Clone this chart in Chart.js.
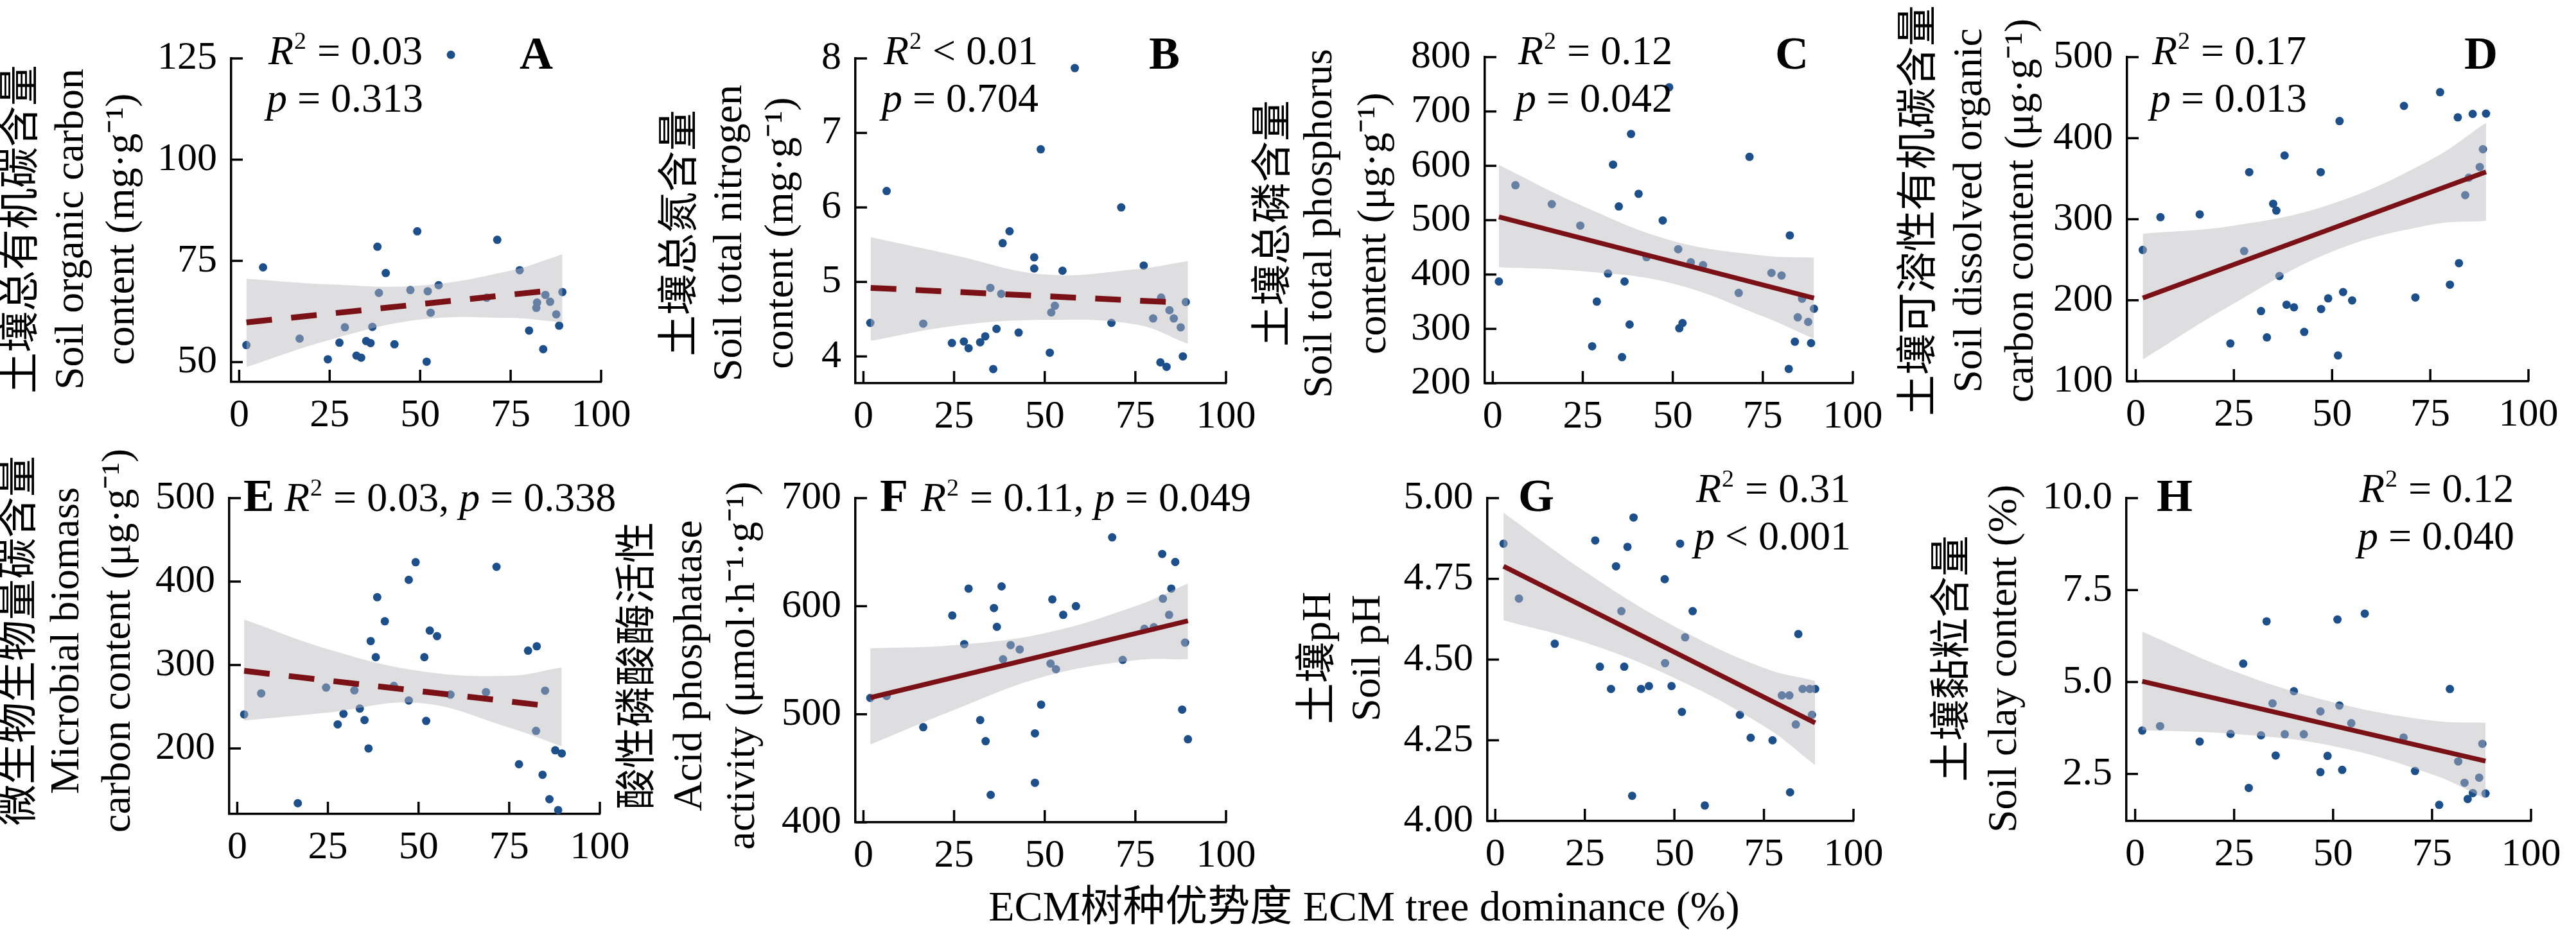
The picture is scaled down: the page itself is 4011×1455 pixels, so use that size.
<!DOCTYPE html>
<html><head><meta charset="utf-8">
<script src="https://cdn.jsdelivr.net/npm/chart.js@4.4.1/dist/chart.umd.min.js"></script>
<style>
html,body{margin:0;padding:0;background:#fff;width:4011px;height:1455px;overflow:hidden}
canvas{position:absolute;left:0;top:0}
</style></head><body>
<script>
// ---------- DATA ----------
const xTicks = [0,25,50,75,100];
// A Soil organic carbon
const xA=[58.5,6.6,49.2,38.2,71.3,40.5,77.5,38.6,47.3,52.1,55.1,68.4,84.6,89.3,82.3,82.1,85.9,52.9,87.6,88.4,29.2,36.8,80.1,2.0,16.7,27.7,35.1,36.3,42.9,24.5,32.4,33.7,51.8,84.0];
const yA=[125.9,73.4,82.3,78.5,80.2,72.0,72.7,67.1,67.8,67.5,69.0,65.9,66.6,67.3,64.7,63.4,64.9,62.2,61.8,59.0,58.6,58.7,57.8,54.2,55.8,54.8,55.2,54.7,54.4,50.7,51.6,51.1,50.1,53.2];
const fitXA=[2,84], fitYA=[59.8,67.5];
const bandXA=[2,25,50,75,89.3], bandUpA=[70.6,69.2,68.9,72.6,76.6], bandLoA=[48.8,55.5,60.5,60.9,59.8];
const yTicksA=[50,75,100,125];
// B Soil total nitrogen
const xB=[58.3,6.4,48.9,71.1,40.3,38.4,47.1,47.1,54.9,77.3,35.0,38.0,82.1,88.9,52.8,51.8,84.4,85.6,79.9,1.9,16.5,68.4,87.5,36.7,42.8,24.4,27.7,29.0,32.2,33.6,51.4,35.8,81.9,83.6,88.1];
const yB=[7.87,6.22,6.78,6.00,5.68,5.52,5.33,5.18,5.15,5.22,4.92,4.84,4.79,4.73,4.68,4.59,4.62,4.51,4.51,4.45,4.44,4.45,4.39,4.37,4.32,4.18,4.20,4.11,4.19,4.27,4.05,3.83,3.92,3.86,4.00];
const fitXB=[2,84], fitYB=[4.92,4.73];
const bandXB=[2,25,50,75,89.5], bandUpB=[5.60,5.36,5.10,5.17,5.28], bandLoB=[4.21,4.41,4.49,4.43,4.17];
const yTicksB=[4,5,6,7,8];
// C Soil total phosphorus
const xC=[49.0,38.4,33.4,71.3,6.3,40.5,16.4,35.0,47.2,24.3,82.5,51.5,42.7,55.0,58.4,77.4,80.2,32.0,1.7,36.6,68.3,85.9,28.9,89.2,84.7,87.6,38.0,52.7,51.8,27.6,83.9,88.4,35.9,82.2];
const yC=[744.6,658.7,602.3,616.5,564.3,548.5,529.5,525.3,499.5,490.0,472.0,446.7,432.0,422.5,417.2,403.0,398.2,401.9,387.2,387.2,366.1,355.5,350.2,337.1,321.3,312.8,308.1,310.7,301.2,268.0,276.4,273.8,248.0,226.4];
const fitXC=[1.7,89.2], fitYC=[506,356.6];
const bandXC=[1.7,25,50,75,89.2], bandUpC=[601.7,526,462,435,431], bandLoC=[413.5,406,383.5,323,281.7];
const yTicksC=[200,300,400,500,600,700,800];
// D Soil dissolved organic carbon
const xD=[58.5,77.5,68.3,82.0,85.8,89.2,51.9,88.4,37.9,28.9,47.1,87.6,84.8,83.9,35.0,35.8,6.3,16.3,1.8,27.6,36.6,82.3,80.0,52.8,49.0,55.1,71.2,38.4,40.3,47.2,31.9,33.4,42.9,24.1,51.5];
const yD=[524.8,456.8,439.8,425.7,429.9,430.3,421.1,386.4,378.6,358.1,358.1,364.4,351.3,329.7,319.1,310.6,302.5,306.0,262.1,260.7,229.9,245.8,219.3,210.1,202.3,199.8,203.4,194.5,191.3,189.2,186.7,154.2,160.9,146.7,131.9];
const fitXD=[1.8,89.2], fitYD=[202.7,358.4];
const bandXD=[1.8,25,50,75,89.2], bandUpD=[282,292,319,373,419], bandLoD=[127,196,260,293,298];
const yTicksD=[100,200,300,400,500];
// E Microbial biomass carbon
const xE=[49.2,71.5,47.3,38.6,40.7,53.1,55.1,36.8,82.6,80.2,38.2,51.6,24.5,43.2,84.9,6.6,32.3,68.6,58.8,47.3,33.8,1.9,29.3,27.7,35.1,52.1,82.4,36.2,87.7,89.5,77.7,84.2,16.7,86.1,88.5];
const yE=[423.2,417.7,402.1,381.3,352.4,341.3,334.6,328.7,322.4,317.2,309.4,309.4,273.0,274.9,269.3,266.0,269.7,267.5,264.5,257.5,247.8,240.8,241.5,228.9,234.1,233.0,221.1,200.0,197.8,194.1,181.1,168.5,134.4,139.2,126.2];
const fitXE=[1.9,83], fitYE=[293,252.3];
const bandXE=[1.9,25,50,75,89.5], bandUpE=[354.6,319,293,287,297], bandLoE=[233.4,243,254.5,225,202.6];
const yTicksE=[200,300,400,500];
// F Acid phosphatase activity
const xF=[68.6,82.4,86.0,29.0,38.1,84.9,52.1,82.6,36.0,58.6,24.5,55.1,84.3,36.8,77.5,80.1,27.8,40.6,88.7,43.1,38.5,71.5,51.6,53.1,1.9,6.4,49.0,87.9,32.2,16.5,47.3,33.7,89.5,47.3,35.1];
const yF=[663.7,648.3,640.9,616.3,618.3,616.3,606.3,606.9,598.3,600.0,591.4,592.0,592.0,580.9,579.1,580.6,564.9,564.0,566.3,560.0,550.9,550.3,546.9,541.7,515.1,516.9,508.9,504.3,494.6,488.0,482.3,475.1,476.9,436.6,425.4];
const fitXF=[1.9,89.5], fitYF=[515.4,586.5];
const bandXF=[1.9,25,50,75,89.5], bandUpF=[561,564,575,600,621], bandLoF=[472,504,535,550,551];
const yTicksF=[400,500,600,700];
// G Soil pH
const xG=[24.6,38.6,2.3,27.9,36.9,51.6,33.7,47.3,6.6,35.2,55.1,84.6,53.0,16.6,47.4,29.2,36.0,49.2,42.9,40.7,32.3,85.8,87.8,89.3,80.0,82.1,52.1,68.3,88.4,83.9,71.3,77.4,82.3,38.2,58.5];
const yG=[5.039,4.940,4.859,4.869,4.849,4.859,4.789,4.749,4.689,4.650,4.650,4.579,4.569,4.549,4.489,4.478,4.478,4.418,4.418,4.409,4.409,4.409,4.409,4.409,4.389,4.389,4.338,4.329,4.329,4.299,4.258,4.250,4.089,4.078,4.048];
const fitXG=[2.3,89.3], fitYG=[4.789,4.304];
const bandXG=[2.3,25,50,75,89.3], bandUpG=[4.955,4.773,4.603,4.474,4.434], bandLoG=[4.622,4.553,4.443,4.294,4.173];
const yTicksG=[4.00,4.25,4.50,4.75,5.00];
// H Soil clay content
const xH=[36.3,58.0,33.2,51.1,27.3,79.5,40.1,34.7,51.6,46.8,54.6,6.3,1.8,24.1,31.8,37.8,42.6,67.8,16.3,87.7,35.5,48.6,81.6,46.8,52.3,70.7,86.9,83.2,28.7,85.3,88.5,84.0,76.8];
const yH=[10.64,6.86,6.65,6.70,5.50,4.81,4.75,4.42,4.36,4.20,3.88,3.80,3.68,3.59,3.55,3.58,3.58,3.49,3.38,3.32,3.00,2.99,2.84,2.55,2.61,2.58,2.40,2.26,2.12,1.98,1.97,1.82,1.66];
const fitXH=[1.8,88.5], fitYH=[5.02,2.85];
const bandXH=[1.8,25,50,75,88.5], bandUpH=[6.37,5.29,4.45,3.95,3.89], bandLoH=[3.69,3.59,3.26,2.49,1.83];
const yTicksH=[2.5,5.0,7.5,10.0];

// ---------- PANELS ----------
const SERIF='"Liberation Serif","Noto Sans CJK SC"';
const panels=[
 {x:xA,y:yA,fx:fitXA,fy:fitYA,bx:bandXA,bu:bandUpA,bl:bandLoA,yt:yTicksA,dec:0,ymin:45.1,ymax:125,dash:true,
  area:{l:360,r:936,t:91,b:595},title:{lines:["土壤总有机碳含量","Soil organic carbon","content (mg·g⁻¹)"],xs:[35,112,191],cy:357},
  letter:{t:'A',x:835,y:107,align:'center'},ann:[{x:418,y:100,s:'R2',v:' = 0.03'},{x:415,y:174,s:'p',v:' = 0.313'}]},
 {x:xB,y:yB,fx:fitXB,fy:fitYB,bx:bandXB,bu:bandUpB,bl:bandLoB,yt:yTicksB,dec:0,ymin:3.64,ymax:8,dash:true,
  area:{l:1332,r:1909,t:91,b:597},title:{lines:["土壤总氮含量","Soil total nitrogen","content (mg·g⁻¹)"],xs:[1061,1137,1217],cy:363},
  letter:{t:'B',x:1813,y:107,align:'center'},ann:[{x:1376,y:100,s:'R2',v:' < 0.01'},{x:1373,y:174,s:'p',v:' = 0.704'}]},
 {x:xC,y:yC,fx:fitXC,fy:fitYC,bx:bandXC,bu:bandUpC,bl:bandLoC,yt:yTicksC,dec:0,ymin:200,ymax:800,dash:false,
  area:{l:2312,r:2885,t:89,b:597},title:{lines:["土壤总磷含量","Soil total phosphorus","content (μg·g⁻¹)"],xs:[1985,2056,2140],cy:348},
  letter:{t:'C',x:2790,y:107,align:'center'},ann:[{x:2364,y:100,s:'R2',v:' = 0.12'},{x:2360,y:174,s:'p',v:' = 0.042'}]},
 {x:xD,y:yD,fx:fitXD,fy:fitYD,bx:bandXD,bu:bandUpD,bl:bandLoD,yt:yTicksD,dec:0,ymin:100,ymax:500,dash:false,
  area:{l:3312,r:3937,t:89,b:594},title:{lines:["土壤可溶性有机碳含量","Soil dissolved organic","carbon content (μg·g⁻¹)"],xs:[2990,3068,3148],cy:328},
  letter:{t:'D',x:3863,y:107,align:'center'},ann:[{x:3351,y:100,s:'R2',v:' = 0.17'},{x:3348,y:174,s:'p',v:' = 0.013'}]},
 {x:xE,y:yE,fx:fitXE,fy:fitYE,bx:bandXE,bu:bandUpE,bl:bandLoE,yt:yTicksE,dec:0,ymin:121.5,ymax:500,dash:true,
  area:{l:357,r:934,t:776,b:1268},title:{lines:["微生物生物量碳含量","Microbial biomass","carbon content (μg·g⁻¹)"],xs:[32,105,185],cy:998},
  letter:{t:'E',x:379,y:796,align:'left'},ann:[{x:443,y:796,s:'R2',v:' = 0.03, ',s2:'p',v2:' = 0.338'}]},
 {x:xF,y:yF,fx:fitXF,fy:fitYF,bx:bandXF,bu:bandUpF,bl:bandLoF,yt:yTicksF,dec:0,ymin:400,ymax:700,dash:false,
  area:{l:1332,r:1909,t:776,b:1281},title:{lines:["酸性磷酸酶活性","Acid phosphatase","activity (μmol·h⁻¹·g⁻¹)"],xs:[995,1075,1157],cy:1037},
  letter:{t:'F',x:1370,y:796,align:'left'},ann:[{x:1434,y:796,s:'R2',v:' = 0.11, ',s2:'p',v2:' = 0.049'}]},
 {x:xG,y:yG,fx:fitXG,fy:fitYG,bx:bandXG,bu:bandUpG,bl:bandLoG,yt:yTicksG,dec:2,ymin:4,ymax:5,dash:false,
  area:{l:2316,r:2886,t:776,b:1279},title:{lines:["土壤pH","Soil pH"],xs:[2054,2131],cy:1025},
  letter:{t:'G',x:2364,y:796,align:'left'},ann:[{x:2641,y:782,s:'R2',v:' = 0.31'},{x:2638,y:856,s:'p',v:' < 0.001'}]},
 {x:xH,y:yH,fx:fitXH,fy:fitYH,bx:bandXH,bu:bandUpH,bl:bandLoH,yt:yTicksH,dec:1,ymin:1.22,ymax:10,dash:false,
  area:{l:3311,r:3941,t:776,b:1279},title:{lines:["土壤黏粒含量","Soil clay content (%)"],xs:[3042,3122],cy:1026},
  letter:{t:'H',x:3358,y:796,align:'left'},ann:[{x:3674,y:782,s:'R2',v:' = 0.12'},{x:3671,y:856,s:'p',v:' = 0.040'}]}
];

const W=4011,H=1455,FS=64;
function rich(ctx,x,y,sym,val){
  ctx.textAlign='left';ctx.textBaseline='alphabetic';
  if(sym==='R2'){
    ctx.font='italic '+FS+'px '+SERIF;ctx.fillText('R',x,y);x+=ctx.measureText('R').width;
    ctx.font=Math.round(FS*0.6)+'px '+SERIF;ctx.fillText('2',x+1,y-FS*0.38);x+=ctx.measureText('2').width+2;
  }else{
    ctx.font='italic '+FS+'px '+SERIF;ctx.fillText(sym,x,y);x+=ctx.measureText(sym).width;
  }
  ctx.font=FS+'px '+SERIF;ctx.fillText(val,x,y);x+=ctx.measureText(val).width;
  return x;
}
const deco={id:'deco',afterDraw(chart,args,o){
  const p=chart.config.options.plugins.deco.p;const ctx=chart.ctx;
  const xs=chart.scales.x, ys=chart.scales.y, a=chart.chartArea;
  ctx.save();ctx.strokeStyle='#000';ctx.lineWidth=3.5;ctx.fillStyle='#000';
  xTicks.forEach(v=>{const px=xs.getPixelForValue(v);ctx.beginPath();ctx.moveTo(px,a.bottom);ctx.lineTo(px,a.bottom-19);ctx.stroke();});
  p.yt.forEach(v=>{const py=ys.getPixelForValue(v);ctx.beginPath();ctx.moveTo(a.left,py);ctx.lineTo(a.left+18,py);ctx.stroke();});
  // y titles
  ctx.textAlign='center';ctx.textBaseline='middle';ctx.font=FS+'px '+SERIF;
  p.title.lines.forEach((t,i)=>{ctx.save();ctx.translate(p.title.xs[i],p.title.cy);ctx.rotate(-Math.PI/2);ctx.fillText(t,0,0);ctx.restore();});
  // letter
  ctx.font='bold 72px '+SERIF;ctx.textAlign=p.letter.align;ctx.textBaseline='alphabetic';
  ctx.fillText(p.letter.t,p.letter.x,p.letter.y);
  p.ann.forEach(n=>{let x=rich(ctx,n.x,n.y,n.s,n.v);if(n.s2)rich(ctx,x,n.y,n.s2,n.v2);});
  ctx.restore();
}};
const xAxisTitle={id:'xt',afterDraw(chart){const ctx=chart.ctx;ctx.save();ctx.fillStyle='#000';ctx.font='66px '+SERIF;ctx.textAlign='center';ctx.textBaseline='middle';ctx.fillText('ECM树种优势度 ECM tree dominance (%)',2124,1417);ctx.restore();}};

panels.forEach((p,i)=>{
  const c=document.createElement('canvas');c.width=W;c.height=H;c.style.width=W+'px';c.style.height=H+'px';document.body.appendChild(c);
  const pts=p.x.map((v,k)=>({x:v,y:p.y[k]}));
  const up=p.bx.map((v,k)=>({x:v,y:p.bu[k]}));
  const lo=p.bx.map((v,k)=>({x:v,y:p.bl[k]}));
  const fit=p.fx.map((v,k)=>({x:v,y:p.fy[k]}));
  const a=p.area;
  new Chart(c,{type:'scatter',
    data:{datasets:[
      {type:'line',data:fit,borderColor:'#7a1116',borderWidth:p.dash?9:7.5,borderDash:p.dash?[40,30]:[],pointRadius:0,fill:false,order:0,borderCapStyle:'butt'},
      {type:'line',data:lo,borderWidth:0,pointRadius:0,fill:false,tension:0.4,order:1,borderColor:'rgba(0,0,0,0)'},
      {type:'line',data:up,borderWidth:0,pointRadius:0,fill:{target:1},backgroundColor:'rgba(185,185,192,0.47)',tension:0.4,order:1,borderColor:'rgba(0,0,0,0)'},
      {data:pts,pointRadius:6.5,pointBackgroundColor:'#1d4f8b',pointBorderWidth:0,order:3,clip:false}
    ]},
    options:{responsive:false,animation:false,devicePixelRatio:1,
      layout:{padding:{left:0,top:a.t,right:W-a.r,bottom:0}},
      plugins:{legend:{display:false},tooltip:{enabled:false},deco:{p:p}},
      scales:{
        x:{type:'linear',min:-2.2,max:100,grid:{display:false,drawTicks:false},border:{display:true,width:3.5,color:'#000'},
           afterBuildTicks:s=>{s.ticks=xTicks.map(v=>({value:v}));},
           afterFit:s=>{s.height=H-a.b;},
           ticks:{padding:16,color:'#000',font:{family:SERIF,size:62},callback:v=>String(v)}},
        y:{type:'linear',min:p.ymin,max:p.ymax,grid:{display:false,drawTicks:false},border:{display:true,width:3.5,color:'#000'},
           afterBuildTicks:s=>{s.ticks=p.yt.map(v=>({value:v}));},
           afterFit:s=>{s.width=a.l;},
           ticks:{padding:22,color:'#000',font:{family:SERIF,size:62},callback:v=>Number(v).toFixed(p.dec)}}
      }},
    plugins:i===0?[deco,xAxisTitle]:[deco]});
});
</script></body></html>
